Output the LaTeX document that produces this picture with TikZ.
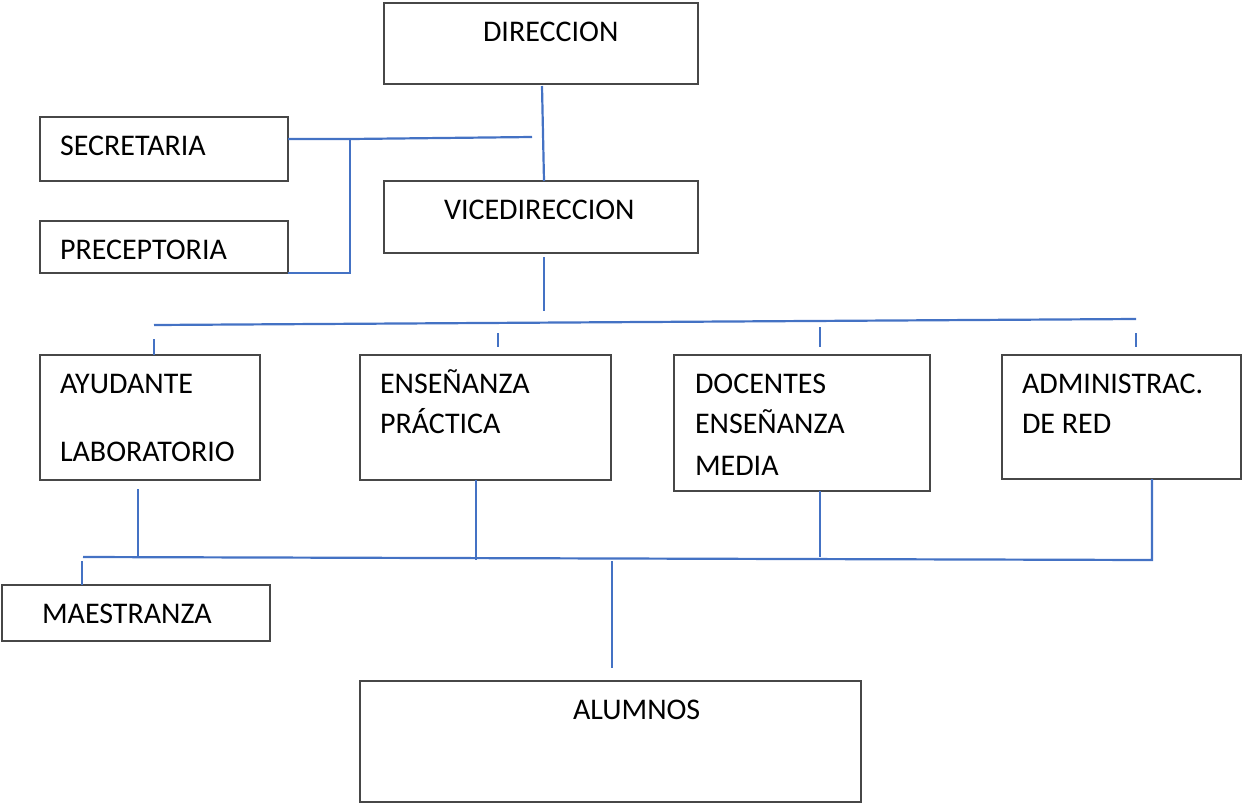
\documentclass[tikz,border=0pt]{standalone}
\usepackage{fontspec}
\setmainfont{Carlito}
\definecolor{boxgray}{HTML}{474747}
\definecolor{linkblue}{HTML}{4472C4}
\tikzset{
  box/.style={draw=boxgray, line width=2.2pt, inner sep=0pt, outer sep=0pt, anchor=north west, fill=white},
  lbl/.style={anchor=base west, inner sep=0pt, outer sep=0pt, font=\fontsize{30}{35}\selectfont, text=black},
  link/.style={draw=linkblue, line width=2.2pt}
}
\begin{document}
\begin{tikzpicture}[x=1pt,y=-1pt]
\useasboundingbox (0,0) rectangle (1242,804);
% boxes
\node[box, minimum width=314pt, minimum height=81pt]  (dir)  at (384,3)   {};
\node[box, minimum width=248pt, minimum height=64pt]  (sec)  at (40,117)  {};
\node[box, minimum width=248pt, minimum height=52pt]  (pre)  at (40,221)  {};
\node[box, minimum width=314pt, minimum height=72pt]  (vice) at (384,181) {};
\node[box, minimum width=220pt, minimum height=125pt] (ayu)  at (40,355)  {};
\node[box, minimum width=251pt, minimum height=125pt] (ens)  at (360,355) {};
\node[box, minimum width=256pt, minimum height=136pt] (doc)  at (674,355) {};
\node[box, minimum width=239pt, minimum height=124pt] (adm)  at (1002,355) {};
\node[box, minimum width=268pt, minimum height=56pt]  (mae)  at (2,585)   {};
\node[box, minimum width=501pt, minimum height=121pt] (alu)  at (360,681) {};
% texts
\node[lbl] (tdir) at (483,41.5) {DIRECCION};
\node[lbl] (tsec) at (60,155.5) {SECRETARIA};
\node[lbl] (tpre) at (60,259.5) {PRECEPTORIA};
\node[lbl] (tvice) at (444,219.5) {VICEDIRECCION};
\node[lbl] (tayu1) at (60,393.5) {AYUDANTE};
\node[lbl] (tayu2) at (60,461.5) {LABORATORIO};
\node[lbl] (tens1) at (380,393.5) {ENSEÑANZA};
\node[lbl] (tens2) at (380,433.5) {PRÁCTICA};
\node[lbl] (tdoc1) at (695,393.5) {DOCENTES};
\node[lbl] (tdoc2) at (695,433.5) {ENSEÑANZA};
\node[lbl] (tdoc3) at (695,475.5) {MEDIA};
\node[lbl] (tadm1) at (1022,393.5) {ADMINISTRAC.};
\node[lbl] (tadm2) at (1022,433.5) {DE RED};
\node[lbl] (tmae) at (42,623.5) {MAESTRANZA};
\node[lbl] (talu) at (573,719.5) {ALUMNOS};
% junction coordinates
\coordinate (d0) at (542,86);
\coordinate (v0) at (544,181);
\coordinate (s0) at (288,139);
\coordinate (s1) at (350,139);
\coordinate (s2) at (532,137);
\coordinate (p1) at (350,273);
\coordinate (p0) at (288,273);
\coordinate (v1) at (544,257);
\coordinate (v2) at (544,311);
\coordinate (h0) at (154,325);
\coordinate (h1) at (1136,319);
\coordinate (a0) at (154,339);
\coordinate (a1) at (154,355);
\coordinate (e0) at (498,333);
\coordinate (e1) at (498,347);
\coordinate (c0) at (820,327);
\coordinate (c1) at (820,347);
\coordinate (m0) at (1136,333);
\coordinate (m1) at (1136,347);
\coordinate (b0) at (138,489);
\coordinate (b1) at (138,557);
\coordinate (f0) at (476,480);
\coordinate (f1) at (476,560);
\coordinate (g0) at (820,491);
\coordinate (g1) at (820,557);
\coordinate (k0) at (1152,479);
\coordinate (k1) at (1152,560);
\coordinate (l0) at (83,557);
\coordinate (q0) at (82,561);
\coordinate (q1) at (82,585);
\coordinate (u0) at (612,561);
\coordinate (u1) at (612,668);
% connectors
\draw[link] (d0) -- (v0);
\draw[link] (s0) -- (s1) -- (s2);
\draw[link] (s1) -- (p1) -- (p0);
\draw[link] (v1) -- (v2);
\draw[link] (h0) -- (h1);
\draw[link] (a0) -- (a1);
\draw[link] (e0) -- (e1);
\draw[link] (c0) -- (c1);
\draw[link] (m0) -- (m1);
\draw[link] (b0) -- (b1);
\draw[link] (f0) -- (f1);
\draw[link] (g0) -- (g1);
\draw[link] (l0) -- (k1) -- (k0);
\draw[link] (q0) -- (q1);
\draw[link] (u0) -- (u1);
\end{tikzpicture}
\end{document}
